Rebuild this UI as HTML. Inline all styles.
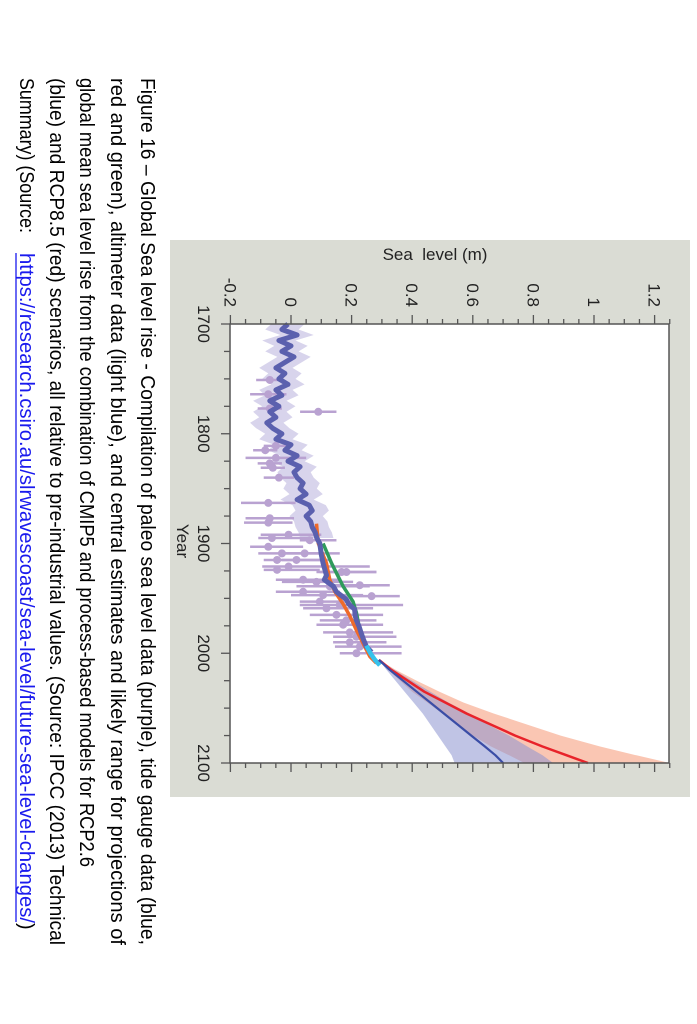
<!DOCTYPE html>
<html><head><meta charset="utf-8"><style>
html,body{margin:0;padding:0;background:#fff;}
svg{display:block;}
text{font-family:"Liberation Sans",sans-serif;}
</style></head><body>
<svg id="root" width="697" height="1024" viewBox="0 0 697 1024" xmlns="http://www.w3.org/2000/svg">
<g id="rot" transform="translate(697,0) rotate(90)">
  <rect x="240" y="7" width="557" height="520" fill="#dadcd4"/>
  <rect x="324" y="28" width="439" height="439" fill="#ffffff"/>
  <g id="marks"></g>
  <rect x="324" y="28" width="439" height="439" fill="none" stroke="#555" stroke-width="1.5"/>
  <g id="axes"></g>
  <text x="254" y="268" transform="rotate(-90 254 262)" text-anchor="middle" font-size="17" fill="#222" xml:space="preserve">Sea  level (m)</text>
  <text x="541" y="520" text-anchor="middle" font-size="17" fill="#222">Year</text>
  <g font-size="20" fill="#000">
    <text x="78" y="556" textLength="867" lengthAdjust="spacingAndGlyphs">Figure 16 – Global Sea level rise - Compilation of paleo sea level data (purple), tide gauge data (blue,</text>
    <text x="78" y="586" textLength="867" lengthAdjust="spacingAndGlyphs">red and green), altimeter data (light blue), and central estimates and likely range for projections of</text>
    <text x="78" y="617" textLength="789" lengthAdjust="spacingAndGlyphs">global mean sea level rise from the combination of CMIP5 and process-based models for RCP2.6</text>
    <text x="78" y="647" textLength="867" lengthAdjust="spacingAndGlyphs">(blue) and RCP8.5 (red) scenarios, all relative to pre-industrial values. (Source: IPCC (2013) Technical</text>
    <text x="78" y="677" textLength="155" lengthAdjust="spacingAndGlyphs">Summary) (Source:</text>
    <text x="253" y="677" textLength="670" lengthAdjust="spacingAndGlyphs" fill="#1a1aee">https://research.csiro.au/slrwavescoast/sea-level/future-sea-level-changes/</text>
    <line x1="253" y1="681" x2="922" y2="681" stroke="#1a1aee" stroke-width="1.3"/>
    <text x="923" y="677">)</text>
  </g>
</g>
</svg>
<script>
// ---- data ----
const paleoYears = [1700,1705,1710,1715,1720,1725,1730,1735,1740,1745,1750,1755,1760,1765,1770,1775,1780,1785,1790,1795,1800,1805,1810,1815,1820,1825,1830,1835,1840,1845,1850,1855,1860,1865,1870,1875,1880,1885,1890,1895,1900,1910,1918,1929,1933,1939,1944,1951,1955,1960,1966,1970,1976,1982,1988,1994,1999];
const paleoValues = [-0.01,-0.03,0.02,-0.04,0.0,-0.03,0.01,-0.02,-0.05,-0.02,-0.04,-0.01,-0.05,-0.03,-0.07,-0.04,-0.07,-0.05,-0.08,-0.06,-0.03,-0.05,0.0,-0.02,0.02,-0.01,0.03,0.01,0.02,0.04,0.03,0.05,0.02,0.06,0.07,0.05,0.065,0.07,0.08,0.085,0.095,0.10,0.106,0.117,0.11,0.14,0.15,0.183,0.19,0.21,0.212,0.216,0.225,0.232,0.24,0.249,0.266];
const bandEndYear = 1895;
const bandHalfWidth = 0.055;
const pointYears = [1751,1764,1777,1780,1811,1815,1822,1827,1831,1840,1863,1877,1881,1892,1895,1897,1903,1909,1909,1915,1915,1921,1924,1926,1926,1933,1935,1938,1939,1944,1947,1948,1953,1956,1959,1965,1970,1974,1981,1985,1990,1994,2000];
const pointValues = [-0.07,-0.075,-0.07,0.09,-0.05,-0.085,-0.05,-0.07,-0.06,-0.04,-0.075,-0.07,-0.075,-0.008,-0.063,0.062,-0.075,-0.030,0.045,-0.046,0.018,-0.008,-0.046,0.167,0.183,0.040,0.084,0.227,0.128,0.040,0.106,0.266,0.095,0.161,0.117,0.150,0.183,0.172,0.194,0.216,0.194,0.227,0.216];
const pointLow = [-0.115,-0.135,-0.11,0.03,-0.09,-0.125,-0.15,-0.11,-0.10,-0.09,-0.165,-0.15,-0.155,-0.10,-0.108,0.029,-0.135,-0.108,-0.036,-0.090,-0.03,-0.095,-0.090,0.084,0.095,-0.050,-0.030,0.128,0.018,-0.050,0.0,0.172,0.029,0.029,0.040,0.062,0.095,0.084,0.106,0.139,0.139,0.145,0.161];
const pointHigh = [-0.025,-0.015,-0.03,0.15,-0.01,-0.045,0.05,-0.03,-0.02,0.01,0.015,0.01,0.005,0.10,0.073,0.150,0.040,0.095,0.161,0.117,0.128,0.260,0.095,0.282,0.282,0.161,0.205,0.326,0.260,0.161,0.238,0.359,0.205,0.370,0.271,0.304,0.282,0.304,0.337,0.348,0.315,0.365,0.365];
const greenYears = [1900,1918,1939,1953,1963,1979,1985];
const greenValues = [0.106,0.134,0.172,0.205,0.216,0.227,0.238];
const orangeYears = [1882,1900,1918,1933,1944,1955,1966,1979,1991,2003,2009];
const orangeValues = [0.084,0.09,0.117,0.128,0.145,0.172,0.194,0.216,0.238,0.26,0.282];
const cyanYears = [1993,2000,2006,2011];
const cyanValues = [0.249,0.262,0.277,0.293];
const projYears = [2006,2015,2025,2035,2045,2055,2065,2075,2085,2093,2100];
const rcp85Mid = [0.29,0.33,0.385,0.44,0.51,0.58,0.66,0.74,0.83,0.91,0.98];
const rcp85Low = [0.29,0.32,0.36,0.40,0.45,0.50,0.55,0.60,0.66,0.72,0.77];
const rcp85High = [0.29,0.345,0.415,0.49,0.57,0.67,0.78,0.89,1.02,1.14,1.25];
const rcp26Mid = [0.29,0.325,0.37,0.415,0.46,0.505,0.55,0.595,0.64,0.675,0.70];
const rcp26Low = [0.29,0.315,0.345,0.375,0.405,0.435,0.46,0.485,0.51,0.53,0.54];
const rcp26High = [0.29,0.34,0.40,0.46,0.52,0.59,0.65,0.72,0.78,0.83,0.865];
const yearTickLabels = [1700,1800,1900,2000,2100];
const levelTickLabels = [-0.2,0,0.2,0.4,0.6,0.8,1,1.2];

// ---- scales ----
const X = y => 324 + (y - 1700) * 1.0975;
const Y = v => 406 - v * 303;
const NS = 'http://www.w3.org/2000/svg';
const marks = document.getElementById('marks');
const axes = document.getElementById('axes');
function mk(tag, parent, attrs){
  const e = document.createElementNS(NS, tag);
  for (const k in attrs) e.setAttribute(k, attrs[k]);
  parent.appendChild(e);
  return e;
}
function pts(xs, ys){ return xs.map((x,i)=>X(x).toFixed(1)+','+Y(ys[i]).toFixed(1)).join(' '); }

// paleo band
const bx = [], bl = [], bh = [];
paleoYears.forEach((y,i)=>{ if (y <= bandEndYear){ bx.push(y); bl.push(paleoValues[i]-bandHalfWidth); bh.push(paleoValues[i]+bandHalfWidth);} });
const band = mk('polygon', marks, {points: pts(bx,bh)+' '+pts(bx.slice().reverse(), bl.slice().reverse()), fill:'#d8d4ec'});



// paleo points with error bars
pointYears.forEach((y,i)=>{
  const g = mk('g', marks, {});
  
  
  mk('line', g, {x1:X(y), x2:X(y), y1:Y(pointLow[i]), y2:Y(pointHigh[i]), stroke:'#b9a2d1', 'stroke-width':2.5});
  mk('circle', g, {cx:X(y), cy:Y(pointValues[i]), r:4, fill:'#b9a2d1'});
});

// projection bands
const b85 = mk('polygon', marks, {points: pts(projYears, rcp85High)+' '+pts(projYears.slice().reverse(), rcp85Low.slice().reverse()), fill:'#f7a080', 'fill-opacity':0.6});


const b26 = mk('polygon', marks, {points: pts(projYears, rcp26High)+' '+pts(projYears.slice().reverse(), rcp26Low.slice().reverse()), fill:'#8d93d0', 'fill-opacity':0.55});



// lines
const lo = mk('polyline', marks, {points: pts(orangeYears, orangeValues), fill:'none', stroke:'#ee6a2b', 'stroke-width':3.5, 'stroke-linejoin':'round'});


const lg = mk('polyline', marks, {points: pts(greenYears, greenValues), fill:'none', stroke:'#2f9a5c', 'stroke-width':3.5, 'stroke-linejoin':'round'});


const ld = mk('polyline', marks, {points: pts(paleoYears, paleoValues), fill:'none', stroke:'#5b60ae', 'stroke-width':5, 'stroke-linejoin':'round'});


const lc = mk('polyline', marks, {points: pts(cyanYears, cyanValues), fill:'none', stroke:'#35c2ec', 'stroke-width':4.5});


const l85 = mk('polyline', marks, {points: pts(projYears, rcp85Mid), fill:'none', stroke:'#e8232a', 'stroke-width':2.5, 'stroke-linejoin':'round'});


const l26 = mk('polyline', marks, {points: pts(projYears, rcp26Mid), fill:'none', stroke:'#3a4da6', 'stroke-width':2.2, 'stroke-linejoin':'round'});



// ticks: sea level
for (let k = 0; k <= 29; k++){
  const v = -0.2 + k*0.05;
  const major = (k % 4 === 0);
  const len = major ? 9 : 5;
  const t1 = mk('line', axes, {x1:324-len, x2:324, y1:Y(v), y2:Y(v), stroke:'#555', 'stroke-width':1.3});
  
  
  const t2 = mk('line', axes, {x1:763, x2:763+len, y1:Y(v), y2:Y(v), stroke:'#555', 'stroke-width':1.3});
  
  
}
levelTickLabels.forEach(v=>{
  const t = mk('text', axes, {x:307, y:Y(v)+6, 'text-anchor':'end', 'font-size':17, fill:'#222'});
  t.textContent = (v === 0 || v === 1) ? String(v) : v.toFixed(1);
  
  
});
// ticks: year
for (let y = 1700; y <= 2100; y += 25){
  const major = (y % 100 === 0);
  const t = mk('line', axes, {x1:X(y), x2:X(y), y1:467, y2:467+(major?9:6), stroke:'#555', 'stroke-width':1.3});
  
  
}
yearTickLabels.forEach(y=>{
  const t = mk('text', axes, {x:X(y), y:499, 'text-anchor':'middle', 'font-size':17, fill:'#222'});
  t.textContent = String(y);
  
  
});
</script>
</body></html>
